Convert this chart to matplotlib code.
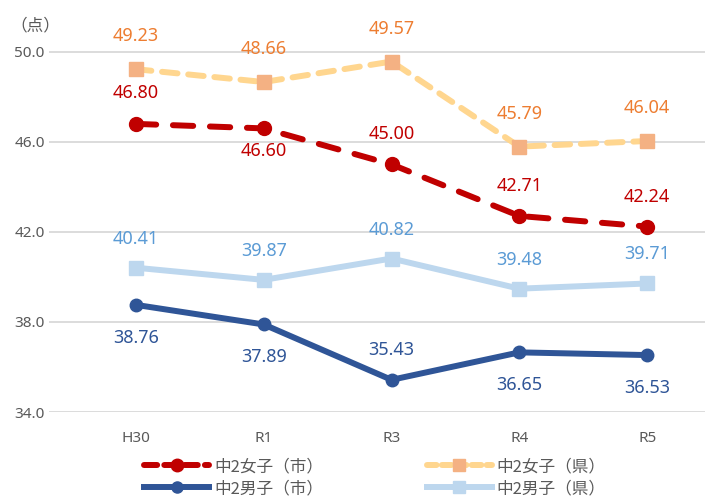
import matplotlib
matplotlib.use("Agg")
import matplotlib.pyplot as plt
from matplotlib.lines import Line2D

plt.rcParams['font.family'] = ['Noto Sans CJK JP', 'DejaVu Sans']

categories = ["H30", "R1", "R3", "R4", "R5"]
girls_city = [46.80, 46.60, 45.00, 42.71, 42.24]
girls_pref = [49.23, 48.66, 49.57, 45.79, 46.04]
boys_city = [38.76, 37.89, 35.43, 36.65, 36.53]
boys_pref = [40.41, 39.87, 40.82, 39.48, 39.71]
yticks = [34.0, 38.0, 42.0, 46.0, 50.0]

fig = plt.figure(figsize=(7.05, 4.99), dpi=100)
ax = fig.add_axes([0.0695, 0.1743, 0.93, 0.812])
x = list(range(len(categories)))

ax.plot(x, girls_pref, color='#FFD68F', lw=4.3, dashes=(2.6, 1.8), dash_capstyle='round', zorder=3)
ax.plot(x, girls_pref, ls='none', marker='s', ms=10, color='#F4B183', zorder=4)
ax.plot(x, girls_city, color='#C00000', lw=4.3, dashes=(3.4, 2.8), dash_capstyle='round', zorder=5)
ax.plot(x, girls_city, ls='none', marker='o', ms=10, color='#C00000', zorder=6)
ax.plot(x, boys_pref, color='#BDD7EE', lw=4.3, marker='s', ms=10, zorder=3)
ax.plot(x, boys_city, color='#2F5597', lw=4.3, marker='o', ms=9, zorder=5)

num_font = ['Noto Sans', 'DejaVu Sans']
fs = 13
for i, v in enumerate(girls_pref):
    ax.annotate(f"{v:.2f}", (i, v), xytext=(0, 33), textcoords='offset pixels',
                ha='center', va='center', color='#ED7D31', fontsize=fs, family=num_font)
red_off = [31, -23, 30, 30, 30]
for i, v in enumerate(girls_city):
    ax.annotate(f"{v:.2f}", (i, v), xytext=(0, red_off[i]), textcoords='offset pixels',
                ha='center', va='center', color='#C00000', fontsize=fs, family=num_font)
for i, v in enumerate(boys_pref):
    ax.annotate(f"{v:.2f}", (i, v), xytext=(0, 29), textcoords='offset pixels',
                ha='center', va='center', color='#5B9BD5', fontsize=fs, family=num_font)
blue_off = [-33, -33, 30, -33, -33]
for i, v in enumerate(boys_city):
    ax.annotate(f"{v:.2f}", (i, v), xytext=(0, blue_off[i]), textcoords='offset pixels',
                ha='center', va='center', color='#2F5597', fontsize=fs, family=num_font)

ax.set_xlim(-0.68, 4.45)
ax.set_ylim(34, 52)
ax.set_yticks(yticks)
ax.set_yticklabels([f"{t:.1f}" for t in yticks], family=num_font)
ax.set_xticks(x)
ax.set_xticklabels(categories, family=num_font)
ax.grid(axis='y', color='#D9D9D9', lw=1.3)
ax.set_axisbelow(True)
for s in ax.spines.values():
    s.set_visible(False)
ax.tick_params(axis='both', length=0, colors='#595959', labelsize=11)
ax.tick_params(axis='x', pad=14)
ax.tick_params(axis='y', pad=3)
ax.text(0.015, 0.948, "（点）", transform=fig.transFigure, fontsize=12, color='#595959',
        ha='left', va='center')

h_gc = Line2D([], [], color='#C00000', lw=4.3, dashes=(2.2, 1.2), dash_capstyle='round',
              marker='o', ms=9)
h_gp = Line2D([], [], color='#FFD68F', lw=4.3, dashes=(1.6, 0.9), dash_capstyle='round',
              marker='s', ms=9, markerfacecolor='#F4B183', markeredgecolor='#F4B183')
h_bc = Line2D([], [], color='#2F5597', lw=4.3, marker='o', ms=8)
h_bp = Line2D([], [], color='#BDD7EE', lw=4.3, marker='s', ms=9)
handles = [h_gc, h_bc, h_gp, h_bp]
labels = ["中2女子（市）", "中2男子（市）", "中2女子（県）", "中2男子（県）"]
fig.legend(handles, labels, ncol=2, loc='center', bbox_to_anchor=(0.532, 0.043),
           frameon=False, fontsize=12, labelcolor='#595959', handlelength=3.9,
           columnspacing=6.2, handletextpad=0.3, labelspacing=0.3)

fig.savefig("out.png", dpi=100)
